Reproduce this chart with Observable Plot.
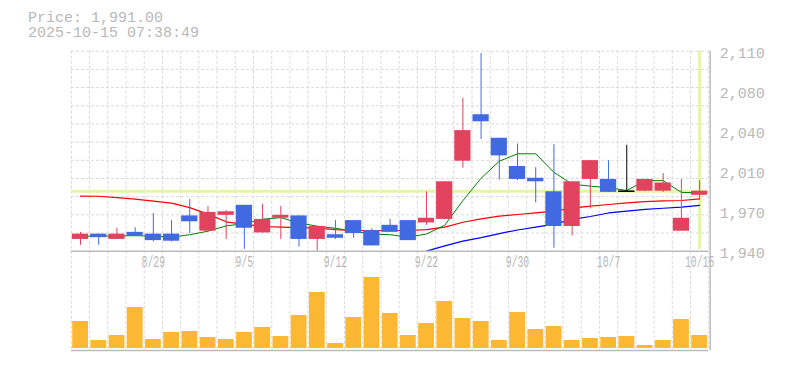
<!DOCTYPE html>
<html><head><meta charset="utf-8">
<script src="https://cdn.jsdelivr.net/npm/d3@7"></script>
<script src="https://cdn.jsdelivr.net/npm/@observablehq/plot@0.6"></script>
<style>
body{margin:0;background:#fff;}
#wrap{position:relative;width:785px;height:370px;overflow:hidden;}
#wrap svg{position:absolute;left:0;top:0;}
#title{position:absolute;left:28px;top:10.5px;font:15px/15px "Liberation Mono",monospace;color:#b8b8b8;white-space:pre;z-index:5;}
</style></head><body>
<div id="wrap"><div id="title"></div></div>
<script>
// ---- data ----
const dates = ["8/25","8/26","8/27","8/28","8/29","9/1","9/2","9/3","9/4","9/5",
  "9/8","9/9","9/10","9/11","9/12","9/16","9/17","9/18","9/19","9/22",
  "9/24","9/25","9/26","9/29","9/30","10/1","10/2","10/3","10/6","10/7",
  "10/8","10/9","10/10","10/14","10/15"];
const open  = [1950,1954.5,1950,1956,1954.5,1954.5,1970,1957,1970.5,1979,
  1955.5,1968,1970,1950,1954,1966,1957.5,1962,1966,1964,
  1967,2016.5,2056,2036,2012,2002,1990.5,1961,2001,2001,
  1991,1991,1991,1957,1987.5];
const high  = [1956,1954.5,1959.5,1960,1972,1966,1984,1978,1974.5,1979,
  1980,1978,1970,1961,1966,1966,1959,1967,1966,1990.5,
  1999,2070,2108,2036,2031,2011,2030.5,1999,2017,2017,
  2030,2001,2006,2001,2000];
const low   = [1945,1945,1950,1953,1948,1948,1955,1957,1950,1941.5,
  1955.5,1950,1943.5,1940,1950,1951,1944.5,1956,1949,1962,
  1967,2010.5,2035,2000.5,2000,1981,1942.5,1953,1976,1990,
  1991,1991,1990,1957,1983.5];
const close = [1954.5,1951.5,1954.5,1953,1949,1948.5,1965,1973,1973.5,1959.5,
  1967,1970.5,1950,1961,1951,1955,1944.5,1956,1949,1968,
  1999,2042.5,2050,2021,2001,1999,1961,1999,2017,1990,
  1991,2001,1998,1968,1991];
const ma5  = [1952.8,1952.8,1953,1953.2,1952.8,1952,1954,1957,1961.5,1963.5,
  1967.2,1968.5,1964,1961.3,1959.5,1957,1954.5,1954,1952,1954.6,
  1962,1983,2002,2016.5,2022.8,2022.8,2007,1997,1995.3,1994,
  1991.6,2000,2000,1990,1989.6];
const ma25 = [1986.8,1986.7,1985.5,1984.2,1982.5,1980.8,1977,1971.5,1965,1962.8,
  1961,1960.4,1960,1959.6,1958.4,1957.6,1957.6,1957.6,1957.6,1958.4,
  1960.4,1964.6,1967.5,1969.8,1971.2,1972.6,1974,1976.6,1978.3,1979.7,
  1981.1,1982.2,1982.8,1983.1,1984.5];
const ma75 = [null,null,null,null,null,null,null,null,null,null,
  null,null,null,null,null,null,null,null,null,1940,
  1944.5,1948.5,1951.5,1955,1958,1960.5,1963,1967,1969.5,1972.5,
  1974,1975.5,1976.5,1977.5,1979];
const volume = [27,8,13,41,9,16,17,11,9,16,21,12,33,56,5,31,71,35,13,25,
  47,30,27,8,36,19,22,8,10,11,12,3,8,29,13];
const xTickLabels = ["8/29","9/5","9/12","9/22","9/30","10/7","10/15"];
const yTickValues = [1940,1974,2008,2042,2076,2110];
const yTickLabels = ["1,940","1,970","2,010","2,040","2,080","2,110"];
const currentPrice = 1991;
const titleLines = ["Price: 1,991.00","2025-10-15 07:38:49"];

// ---- styles ----
const W = 785, H = 370;
const UP = "#e1435f", DOWN = "#4169e1", DOJI = "#000000";
const GRID = "#d9d9d9", FRAME = "#bdbdbd", HL = "#e4f5a8", TXT = "#b8b8b8";
const VOL = "#fdb833";
const L = 70.9, R = 708.2;

const n = dates.length;
const xDomain = [-0.5, n - 0.5];
const yDomain = [yTickValues[0], yTickValues[yTickValues.length - 1]];
const candles = dates.map((d, i) => ({i, date: d, open: open[i], high: high[i], low: low[i], close: close[i]}));
const colorOf = d => d.close > d.open ? UP : d.close < d.open ? DOWN : DOJI;
const bodies = candles.filter(d => d.open !== d.close);
const dojis = candles.filter(d => d.open === d.close);
const series = arr => arr.map((v, i) => ({i, v})).filter(d => d.v != null);
const gridYs = d3.range(12).map(k => yDomain[0] + k * (yDomain[1] - yDomain[0]) / 11);
const bounds = d3.range(n + 1).map(k => k - 0.5);
const xTicks = xTickLabels.map(l => dates.indexOf(l));
const font = "'Liberation Mono', monospace";

const volPlot = Plot.plot({
  width: W, height: H,
  marginLeft: L, marginRight: W - R, marginTop: 250.7, marginBottom: 20,
  style: {background: "transparent", fontFamily: font, overflow: "visible"},
  x: {type: "linear", domain: xDomain, axis: null, label: null},
  y: {domain: [-2, 97.3], axis: null, label: null},
  marks: [
    Plot.ruleX(bounds, {stroke: GRID, strokeDasharray: "3,2"}),
    Plot.rect(volume.map((v, i) => ({i, v})), {
      x1: d => d.i - 0.5, x2: d => d.i + 0.5, y1: 0, y2: "v",
      fill: VOL, insetLeft: 1.3, insetRight: 1.1
    }),
    Plot.ruleY([-2], {stroke: FRAME, strokeWidth: 1.5}),
    Plot.ruleX([xDomain[1]], {dx: 1.5, stroke: FRAME, strokeWidth: 1.5})
  ]
});

const main = Plot.plot({
  width: W, height: H,
  marginLeft: L, marginRight: W - R, marginTop: 50.7, marginBottom: H - 250.7,
  style: {background: "transparent", fontFamily: font, fontSize: "15px", overflow: "visible"},
  x: {type: "linear", domain: xDomain, label: null},
  y: {domain: yDomain, label: null},
  marks: [
    Plot.ruleY(gridYs, {stroke: GRID, strokeDasharray: "3,2"}),
    Plot.ruleX(bounds, {stroke: GRID, strokeDasharray: "3,2"}),
    Plot.ruleY([currentPrice], {stroke: HL, strokeWidth: 3}),
    Plot.ruleX([n - 1], {y1: yDomain[0] + 1.5, y2: yDomain[1], stroke: HL, strokeWidth: 3}),
    Plot.line(series(ma75), {x: "i", y: "v", stroke: "#0000ff", strokeWidth: 1.2}),
    Plot.line(series(ma25), {x: "i", y: "v", stroke: "#ff0000", strokeWidth: 1.2}),
    Plot.line(series(ma5), {x: "i", y: "v", stroke: "#008000", strokeWidth: 1}),
    Plot.ruleX(candles, {x: "i", y1: "low", y2: "high", stroke: colorOf, strokeWidth: 1}),
    Plot.rect(bodies, {
      x1: d => d.i - 0.5, x2: d => d.i + 0.5, y1: "open", y2: "close",
      fill: colorOf, insetLeft: 1, insetRight: 1
    }),
    Plot.ruleY(dojis, {y: "close", x1: d => d.i - 0.45, x2: d => d.i + 0.45, stroke: DOJI, strokeWidth: 1.5}),
    Plot.ruleY([yDomain[0]], {stroke: FRAME, strokeWidth: 1.5}),
    Plot.ruleX([xDomain[1]], {dx: 1.5, stroke: FRAME, strokeWidth: 1.5}),
    Plot.axisX({ticks: xTicks, tickFormat: i => dates[i], tickSize: 0, tickPadding: 4.6,
      fontSize: 16, color: TXT, className: "xlab", label: null}),
    Plot.axisY({anchor: "right", ticks: yTickValues, tickFormat: v => yTickLabels[yTickValues.indexOf(v)],
      tickSize: 0, tickPadding: 11, dy: 1.8, fontSize: 15, color: TXT, label: null})
  ]
});

const wrap = document.getElementById("wrap");
wrap.appendChild(volPlot);
wrap.appendChild(main);
document.getElementById("title").textContent = titleLines.join("\n");

// condensed date labels
d3.select(main).selectAll("g[aria-label='x-axis tick label'] text").each(function() {
  const t = this.textContent;
  d3.select(this).attr("textLength", t.length * 5.86).attr("lengthAdjust", "spacingAndGlyphs");
});
</script></body></html>
